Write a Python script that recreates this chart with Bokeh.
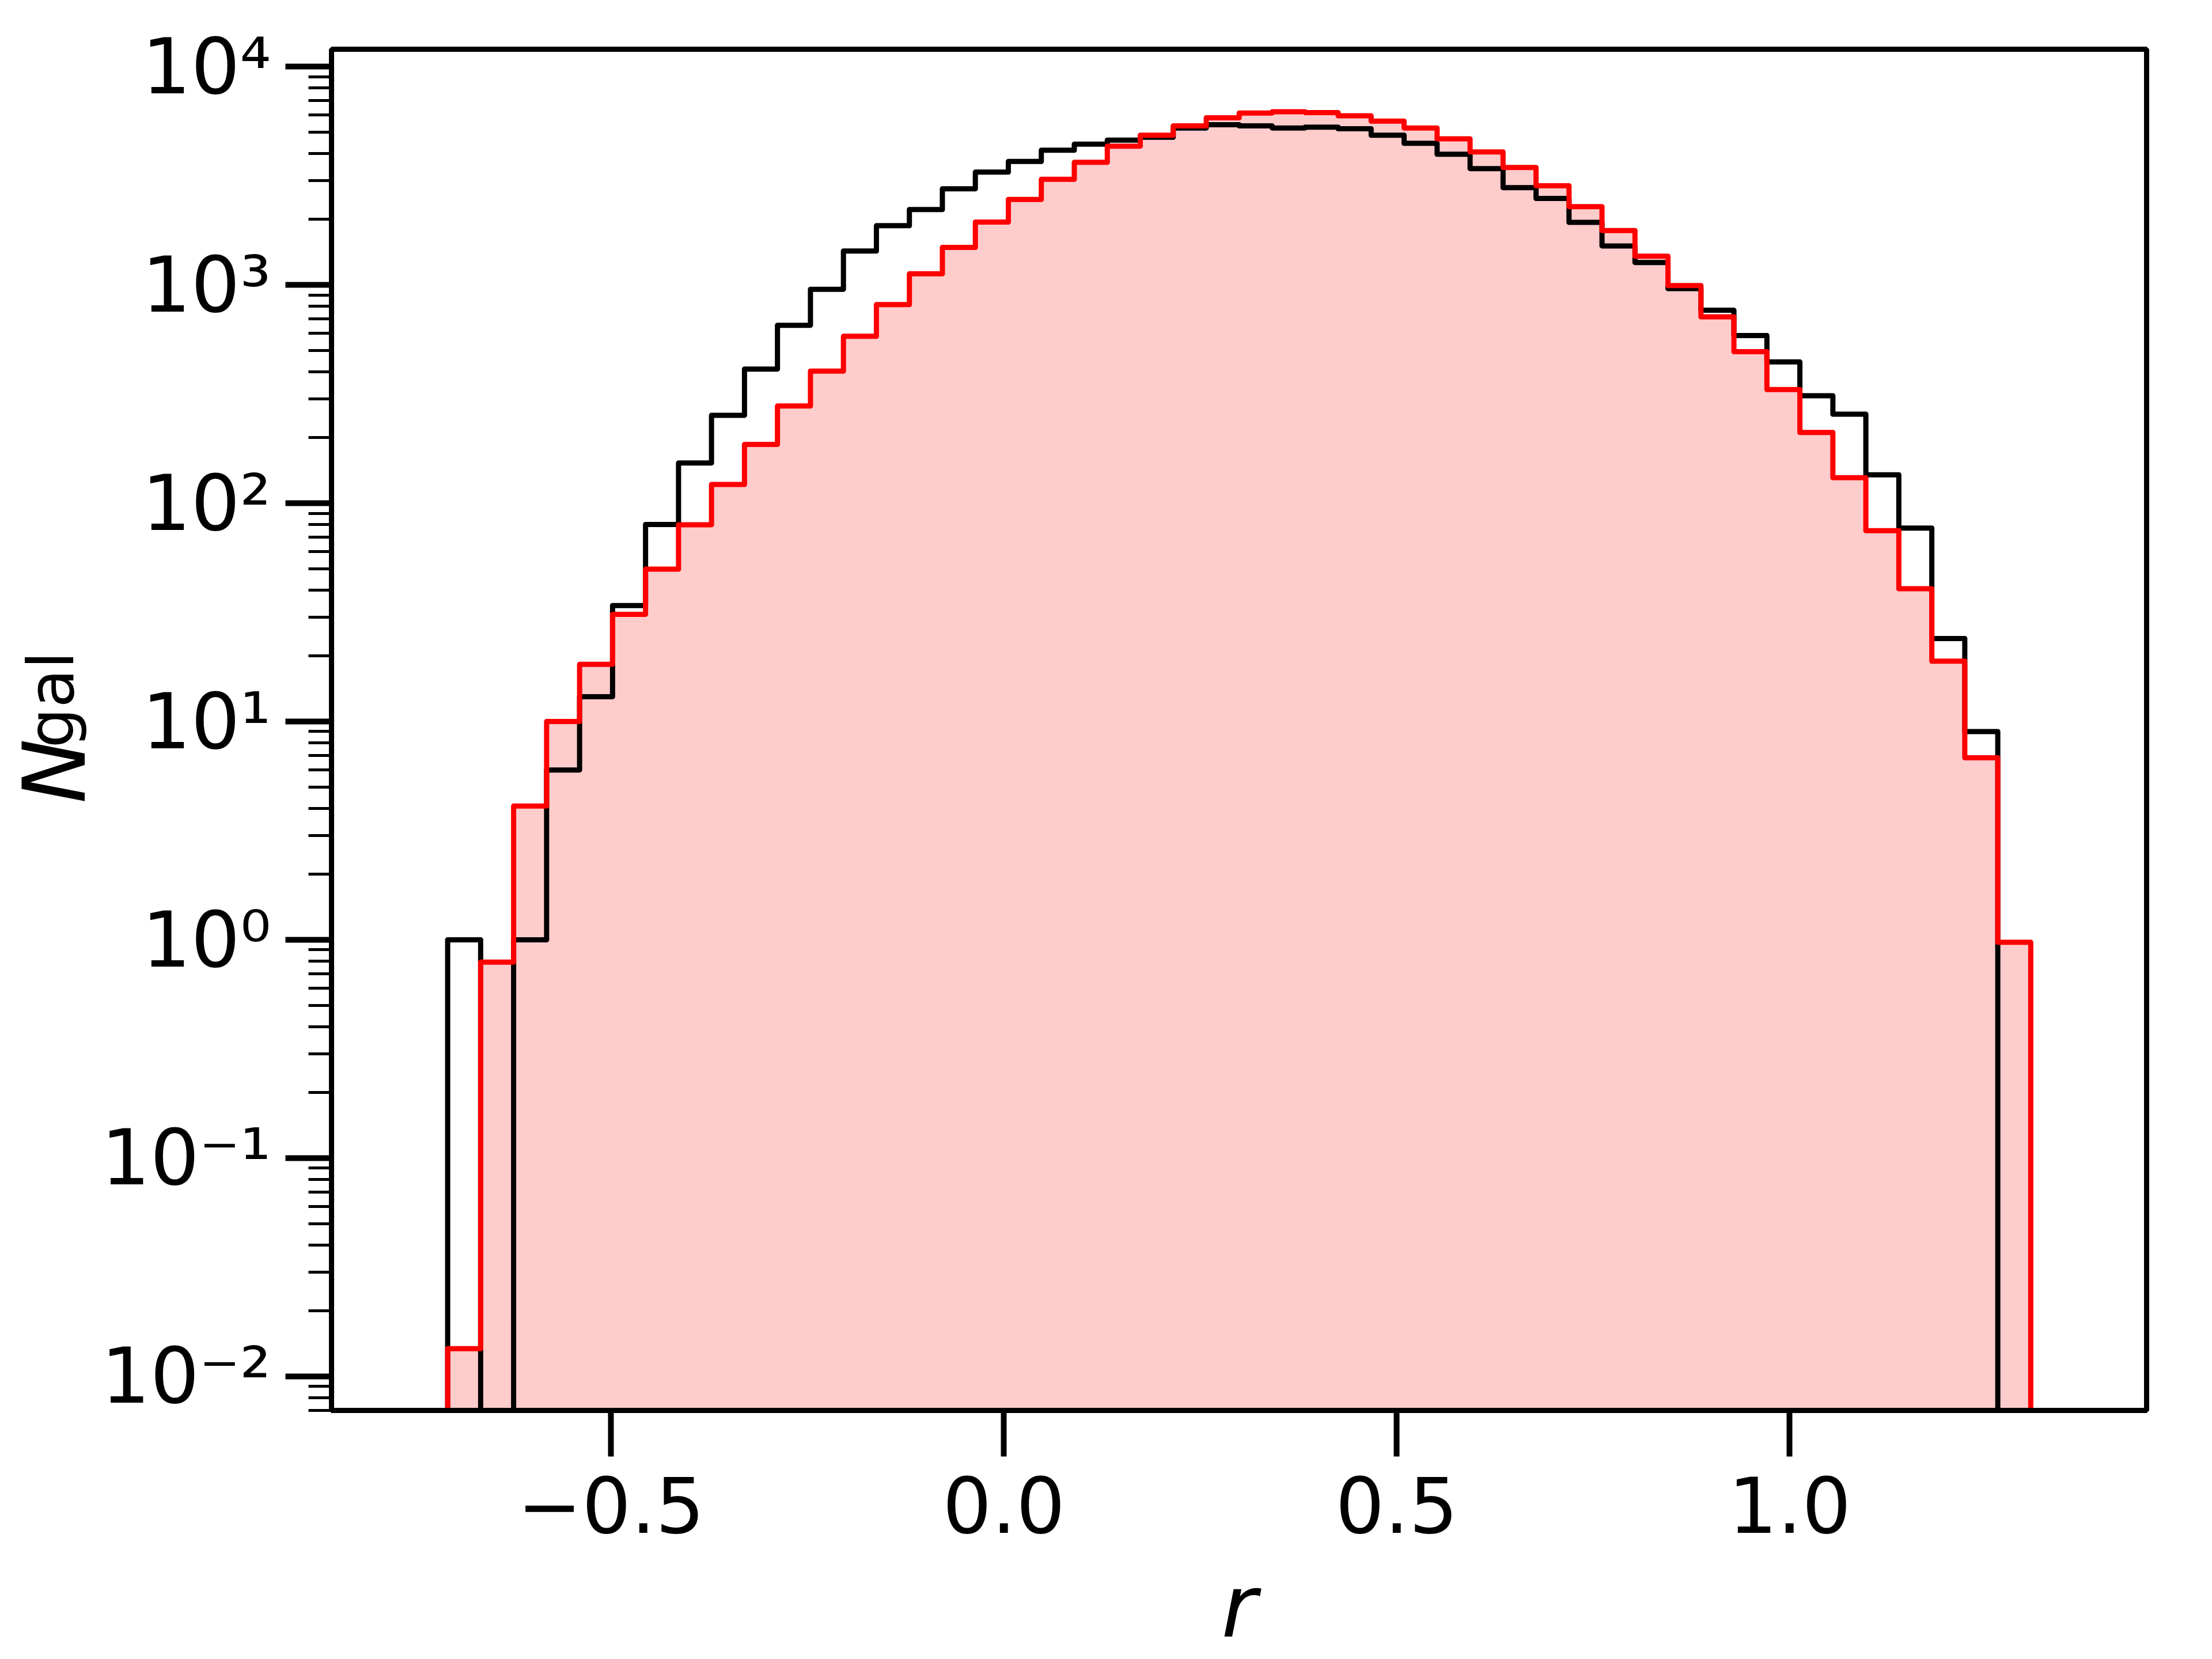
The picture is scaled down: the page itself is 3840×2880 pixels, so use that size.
import numpy as np
from bokeh.plotting import figure
from bokeh.models import Range1d, FixedTicker, LogAxis
from bokeh.embed import file_html
from bokeh.resources import INLINE

# ---- data ----
r_start = -0.7078          # left edge of first bin
bin_width = 0.04197        # width of each bin

n_gal_black = [1, 0, 1, 6, 13, 34, 80, 153, 253, 412,
               654, 956, 1431, 1869, 2217, 2760, 3290, 3680, 4146, 4420,
               4613, 4753, 5241, 5424, 5355, 5241, 5288, 5198, 4855, 4457,
               3972, 3415, 2792, 2492, 1935, 1510, 1268, 963, 766, 587,
               444, 311, 256, 135, 77, 24, 9, 0]

n_gal_red = [0.0134, 0.79, 4.1, 10.0, 18.3, 31.0, 49.9, 79.7, 122, 186,
             279, 403, 582, 813, 1125, 1487, 1942, 2466, 3050, 3649,
             4328, 4855, 5355, 5834, 6138, 6216, 6166, 5957, 5635, 5241,
             4671, 4070, 3455, 2850, 2286, 1777, 1355, 994, 715, 495,
             332, 211, 131, 74.9, 40.6, 18.9, 6.82, 0.974]

x_ticks = [-0.5, 0, 0.5, 1]
x_tick_labels = ["\u22120.5", "0.0", "0.5", "1.0"]
y_ticks = [0.01, 0.1, 1, 10, 100, 1000, 10000]
y_tick_labels = ["10\u207b\u00b2", "10\u207b\u00b9", "10\u2070", "10\u00b9",
                 "10\u00b2", "10\u00b3", "10\u2074"]
y_minor_ticks = [m * 10.0 ** k for k in range(-3, 4) for m in range(2, 10)]

NBSP = "\u00a0"

# ---- figure ----
p = figure(frame_width=3151, frame_height=2363,
           y_axis_type="log",
           x_range=Range1d(-0.8556, 1.4542),
           y_range=Range1d(10 ** -2.156, 10 ** 4.080),
           output_backend="svg", toolbar_location=None,
           min_border_left=575, min_border_right=100,
           min_border_top=85, min_border_bottom=420,
           background_fill_color="white", border_fill_color="white")
p.grid.visible = False
p.outline_line_color = "black"
p.outline_line_width = 9

# ---- histogram steps ----
edges = r_start + bin_width * np.arange(len(n_gal_red) + 1)
floor = 1e-4


def step_xy(counts):
    c = np.asarray(counts, dtype=float)
    c = np.where(c > 0, c, floor)
    xs = np.repeat(edges, 2)
    ys = np.concatenate([[floor], np.repeat(c, 2), [floor]])
    return xs, ys


xr, yr = step_xy(n_gal_red)
xb, yb = step_xy(n_gal_black)

p.patch(xr, yr, fill_color="red", fill_alpha=0.2, line_color=None)
p.line(xb, yb, line_color="black", line_width=9, line_join="round")
p.line(xr, yr, line_color="red", line_width=9, line_join="round")

# ---- axes ----
for ax in (p.xaxis[0], p.yaxis[0]):
    ax.axis_line_color = "black"
    ax.axis_line_width = 9
    ax.major_tick_line_color = "black"
    ax.major_tick_line_width = 10
    ax.major_tick_out = 80
    ax.major_tick_in = 0
    ax.minor_tick_line_color = "black"
    ax.minor_tick_line_width = 5
    ax.minor_tick_out = 40
    ax.minor_tick_in = 0
    ax.major_label_text_font = "DejaVu Sans"
    ax.major_label_text_font_size = "134px"
    ax.major_label_text_color = "black"

xa = p.xaxis[0]
xa.ticker = FixedTicker(ticks=x_ticks, minor_ticks=[])
xa.major_label_overrides = dict(zip(x_ticks, x_tick_labels))
xa.major_label_standoff = 34
xa.axis_label = "r"
xa.axis_label_text_font = "DejaVu Sans"
xa.axis_label_text_font_style = "italic"
xa.axis_label_text_font_size = "150px"
xa.axis_label_text_color = "black"
xa.axis_label_standoff = 38

ya = p.yaxis[0]
ya.ticker = FixedTicker(ticks=y_ticks, minor_ticks=y_minor_ticks)
ya.major_label_overrides = dict(zip(y_ticks, y_tick_labels))
ya.major_label_standoff = 25
# subscript part of the y label ("gal"), shifted upward along the axis
ya.axis_label = NBSP * 3 + "gal"
ya.axis_label_text_font = "DejaVu Sans"
ya.axis_label_text_font_style = "normal"
ya.axis_label_text_font_size = "110px"
ya.axis_label_text_color = "black"
ya.axis_label_standoff = 20

# main symbol of the y label ("N", italic) on an outer, tick-less axis
ax_n = LogAxis(ticker=FixedTicker(ticks=[], minor_ticks=[]),
               axis_line_color=None, major_tick_out=0, major_tick_in=0,
               minor_tick_out=0, minor_tick_in=0,
               major_label_text_font_size="0px",
               axis_label="N" + NBSP * 3,
               axis_label_text_font="DejaVu Sans",
               axis_label_text_font_style="italic",
               axis_label_text_font_size="150px",
               axis_label_text_color="black",
               axis_label_standoff=-160)
p.add_layout(ax_n, "left")

open("out.html", "w").write(file_html(p, INLINE))
